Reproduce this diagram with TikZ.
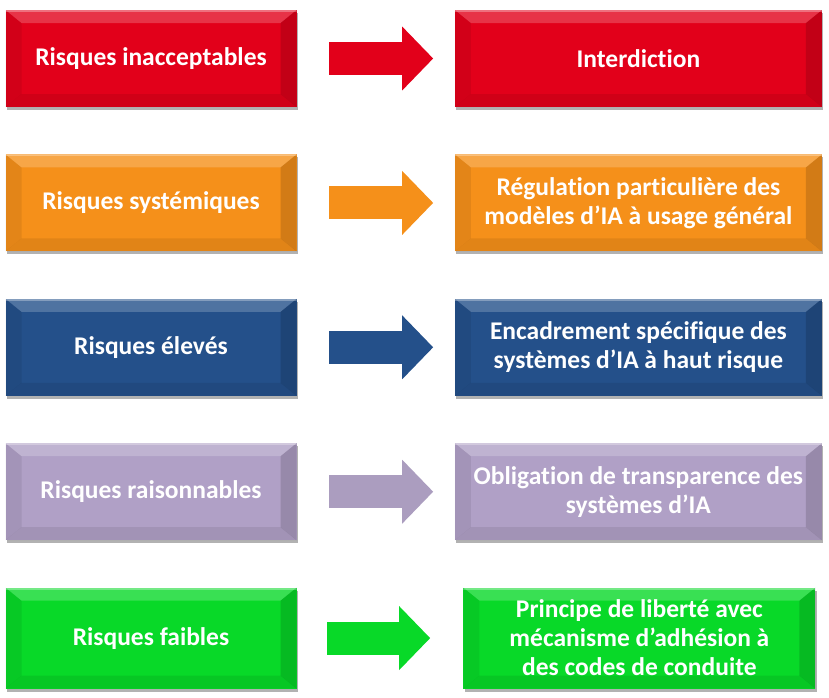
\documentclass[tikz,border=0pt]{standalone}
\usepackage{fontspec}
\setmainfont{Carlito}[Ligatures=NoCommon]
\usepackage{tikz}
\usetikzlibrary{arrows.meta,positioning,shadows}

\definecolor{rougeIA}{HTML}{E2001A}
\definecolor{orangeIA}{HTML}{F5901A}
\definecolor{bleuIA}{HTML}{24508A}
\definecolor{mauveIA}{HTML}{B0A0C6}
\definecolor{vertIA}{HTML}{08D928}

\begin{document}
\begin{tikzpicture}[x=1pt,y=-1pt,
        node distance=47pt and 158pt,
        niveau/.style={rectangle,fill=#1,minimum width=291pt,minimum height=97pt,inner sep=0pt,
            align=center,text=white,font=\bfseries\fontsize{25.5}{29}\selectfont,
            drop shadow={shadow xshift=1.5pt,shadow yshift=-3pt,opacity=.3,fill=black},
            path picture={
                \fill[white,opacity=.2] (path picture bounding box.north west) -- (path picture bounding box.north east)
                    -- ([shift={(-16pt,-13pt)}]path picture bounding box.north east) -- ([shift={(16pt,-13pt)}]path picture bounding box.north west) -- cycle;
                \fill[black,opacity=.07] (path picture bounding box.north west) -- ([shift={(16pt,-13pt)}]path picture bounding box.north west)
                    -- ([shift={(16pt,13pt)}]path picture bounding box.south west) -- (path picture bounding box.south west) -- cycle;
                \fill[black,opacity=.14] (path picture bounding box.north east) -- ([shift={(-16pt,-13pt)}]path picture bounding box.north east)
                    -- ([shift={(-16pt,13pt)}]path picture bounding box.south east) -- (path picture bounding box.south east) -- cycle;
                \fill[black,opacity=.08] (path picture bounding box.south west) -- ([shift={(16pt,13pt)}]path picture bounding box.south west)
                    -- ([shift={(-16pt,13pt)}]path picture bounding box.south east) -- (path picture bounding box.south east) -- cycle;
                \fill[white,opacity=.3] (path picture bounding box.north west) rectangle ([yshift=-2pt]path picture bounding box.north east);
            }},
        regime/.style={niveau=#1,minimum width=367pt},
        fleche/.style={-{Triangle[length=31pt,width=62pt]},line width=33pt,draw=#1,shorten <=32.5pt,shorten >=21.5pt}
    ]
        \useasboundingbox[fill=white] (0,0) rectangle (829,697);

        % niveaux de risque
        \node[niveau=rougeIA] (risque1) at (151,58.5) {Risques inacceptables};
        \node[niveau=orangeIA, below=of risque1] (risque2) {Risques systémiques};
        \node[niveau=bleuIA, below=of risque2] (risque3) {Risques élevés};
        \node[niveau=mauveIA, below=of risque3] (risque4) {Risques raisonnables};
        \node[niveau=vertIA, minimum height=101pt, below=47pt of risque4] (risque5) {Risques faibles};

        % regimes
        \node[regime=rougeIA, right=of risque1] (regime1) {Interdiction};
        \node[regime=orangeIA, right=of risque2] (regime2) {Régulation particulière des\\modèles d’IA à usage général};
        \node[regime=bleuIA, right=of risque3] (regime3) {Encadrement spécifique des\\systèmes d’IA à haut risque};
        \node[regime=mauveIA, right=of risque4] (regime4) {Obligation de transparence des\\systèmes d’IA};
        \node[regime=vertIA, minimum width=352pt, minimum height=101pt, right=166.5pt of risque5] (regime5) {Principe de liberté avec\\mécanisme d’adhésion à\\des codes de conduite};

        \draw[fleche=rougeIA] (risque1) -- (regime1);
        \draw[fleche=orangeIA] (risque2) -- (regime2);
        \draw[fleche=bleuIA] (risque3) -- (regime3);
        \draw[fleche=mauveIA!90!gray] (risque4) -- (regime4);
        \draw[fleche=vertIA, shorten <=30.5pt, shorten >=33pt] (risque5) -- (regime5);
    \end{tikzpicture}
\end{document}
